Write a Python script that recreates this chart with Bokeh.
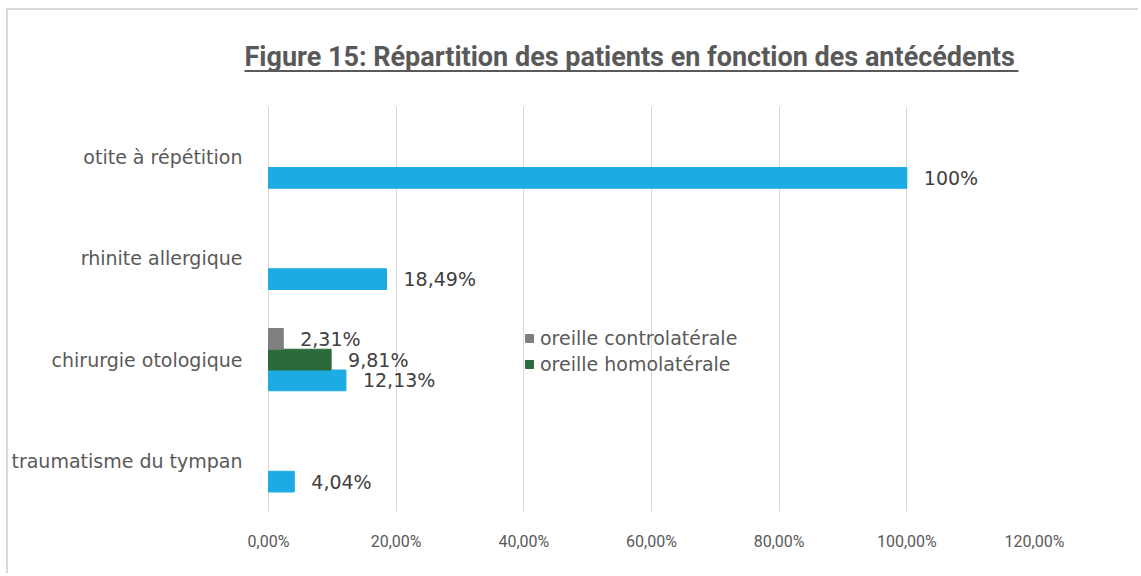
from bokeh.plotting import figure
from bokeh.layouts import column
from bokeh.models import (FactorRange, Range1d, Legend, LegendItem,
                          ColumnDataSource, FixedTicker)
from bokeh.transform import dodge
from bokeh.core.properties import value
from bokeh.embed import file_html
from bokeh.resources import INLINE

# ---- data ----
title_text = "Figure 15: Répartition des patients en fonction des antécédents"
categories = ["otite à répétition", "rhinite allergique",
              "chirurgie otologique", "traumatisme du tympan"]
total_values = [100, 18.49, 12.13, 4.04]
homo_categories = ["chirurgie otologique"]
homo_values = [9.81]
contro_categories = ["chirurgie otologique"]
contro_values = [2.31]
series_names = ["oreille controlatérale", "oreille homolatérale"]
x_ticks = [0, 20, 40, 60, 80, 100, 120]
x_tick_labels = ["0,00%", "20,00%", "40,00%", "60,00%", "80,00%", "100,00%", "120,00%"]

BLUE = "#1CABE2"
GREEN = "#2B6A3A"
GRAY = "#7F7F7F"
TXT = "#595959"
GRID = "#D9D9D9"


def fmt(v):
    if float(v).is_integer():
        return f"{int(v)}%"
    return f"{v:.2f}".replace(".", ",") + "%"


W = 1130
TOP_H = 96
MAIN_H = 467
BORDER_L = 235          # frame starts 25px left of the 0% line
BORDER_R = 104
DATA_W = 766            # pixels spanned by 0..120 %
FRAME_W = W - BORDER_L - BORDER_R
x_start = -(FRAME_W - DATA_W) * 120 / DATA_W

# ---- title strip ----
pt = figure(width=W, height=TOP_H, x_range=Range1d(0, FRAME_W), y_range=Range1d(0, TOP_H),
            x_axis_type=None, y_axis_type=None, output_backend="svg",
            toolbar_location=None, min_border=0,
            min_border_left=BORDER_L, min_border_right=BORDER_R)
pt.grid.visible = False
pt.outline_line_color = None
pt.text(x=[1], y=[50], text=[title_text], text_font=value("Roboto"),
        text_font_style="bold", text_font_size="27px", text_color=TXT,
        text_baseline="middle", text_align="left")
pt.segment(x0=[1], y0=[35.5], x1=[775], y1=[35.5], line_color=TXT, line_width=2)

# ---- main chart ----
p = figure(width=W, height=MAIN_H,
           y_range=FactorRange(factors=categories[::-1]),
           x_range=Range1d(x_start, 120),
           output_backend="svg", toolbar_location=None,
           min_border_left=BORDER_L, min_border_right=BORDER_R,
           min_border_top=0, min_border_bottom=62)
p.outline_line_color = None

BH = 0.205
src_total = ColumnDataSource(dict(cat=categories, val=total_values,
                                  lab=[fmt(v) for v in total_values]))
src_homo = ColumnDataSource(dict(cat=homo_categories, val=homo_values,
                                 lab=[fmt(v) for v in homo_values]))
src_contro = ColumnDataSource(dict(cat=contro_categories, val=contro_values,
                                   lab=[fmt(v) for v in contro_values]))

r_total = p.hbar(y=dodge("cat", -BH, range=p.y_range), right="val", left=0,
                 height=BH, source=src_total, fill_color=BLUE, line_color=BLUE)
r_homo = p.hbar(y=dodge("cat", 0, range=p.y_range), right="val", left=0,
                height=BH, source=src_homo, fill_color=GREEN, line_color=GREEN)
r_contro = p.hbar(y=dodge("cat", BH, range=p.y_range), right="val", left=0,
                  height=BH, source=src_contro, fill_color=GRAY, line_color=GRAY)

lab_kw = dict(x="val", text="lab", x_offset=17, text_baseline="middle",
              text_align="left", text_font=value("DejaVu Sans"),
              text_font_size="19px", text_color="#404040")
p.text(y=dodge("cat", -BH, range=p.y_range), source=src_total, **lab_kw)
p.text(y=dodge("cat", 0, range=p.y_range), source=src_homo, **lab_kw)
p.text(y=dodge("cat", BH, range=p.y_range), source=src_contro, **lab_kw)

# axes
p.xaxis.ticker = FixedTicker(ticks=x_ticks)
p.xaxis.major_label_overrides = {t: l for t, l in zip(x_ticks, x_tick_labels)}
for ax in (p.xaxis, p.yaxis):
    ax.axis_line_color = None
    ax.major_tick_line_color = None
    ax.minor_tick_line_color = None
    ax.major_label_text_color = TXT
p.xaxis.major_label_text_font = "Roboto"
p.xaxis.major_label_text_font_size = "16px"
p.xaxis.major_label_standoff = 14
p.yaxis.major_label_text_font = "DejaVu Sans"
p.yaxis.major_label_text_font_size = "19px"
p.yaxis.major_label_standoff = -5

p.ygrid.visible = False
p.xgrid.grid_line_color = GRID
p.xgrid.grid_line_width = 1
p.xgrid.ticker = FixedTicker(ticks=x_ticks)

legend = Legend(items=[LegendItem(label=series_names[0], renderers=[r_contro]),
                       LegendItem(label=series_names[1], renderers=[r_homo])],
                location=(281, 136), orientation="vertical",
                border_line_color=None, background_fill_alpha=0,
                padding=0, margin=0, spacing=4,
                glyph_width=10, glyph_height=10, label_standoff=6,
                label_text_font="DejaVu Sans",
                label_text_font_size="19px", label_text_color=TXT)
p.add_layout(legend)

layout = column(pt, p, spacing=0)
layout.styles = {"margin-left": "6px", "margin-top": "8px",
                 "border-left": "2px solid #D9D9D9",
                 "border-top": "2px solid #D9D9D9"}

open("out.html", "w").write(file_html(layout, INLINE))
